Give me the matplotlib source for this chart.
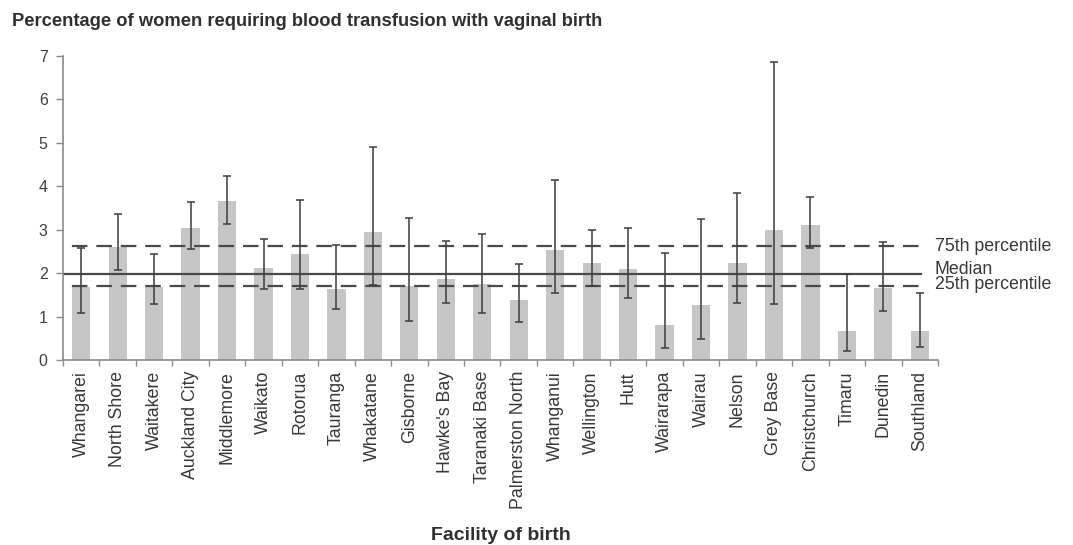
import matplotlib
matplotlib.use("Agg")
import matplotlib.pyplot as plt
import numpy as np

plt.rcParams['font.family'] = ['Liberation Sans', 'DejaVu Sans']

facilities = ["Whangarei", "North Shore", "Waitakere", "Auckland City", "Middlemore",
              "Waikato", "Rotorua", "Tauranga", "Whakatane", "Gisborne", "Hawke's Bay",
              "Taranaki Base", "Palmerston North", "Whanganui", "Wellington", "Hutt",
              "Wairarapa", "Wairau", "Nelson", "Grey Base", "Christchurch", "Timaru",
              "Dunedin", "Southland"]
rates = [1.69, 2.61, 1.68, 3.03, 3.65, 2.11, 2.44, 1.63, 2.95, 1.70, 1.86, 1.74,
         1.38, 2.53, 2.23, 2.09, 0.81, 1.27, 2.23, 2.99, 3.11, 0.67, 1.65, 0.67]
ci_low = [1.09, 2.07, 1.29, 2.56, 3.13, 1.64, 1.64, 1.17, 1.73, 0.89, 1.31, 1.09,
          0.88, 1.54, 1.70, 1.42, 0.27, 0.48, 1.31, 1.29, 2.59, 0.21, 1.13, 0.31]
ci_high = [2.59, 3.36, 2.44, 3.63, 4.24, 2.79, 3.68, 2.64, 4.90, 3.26, 2.75, 2.89,
           2.21, 4.14, 2.99, 3.05, 2.46, 3.25, 3.84, 6.87, 3.76, 1.98, 2.71, 1.54]
p75 = 2.62
median = 1.99
p25 = 1.70
y_ticks = [0, 1, 2, 3, 4, 5, 6, 7]

W, H = 1073, 545
fig = plt.figure(figsize=(W / 100, H / 100), dpi=100)
ax = fig.add_axes([63 / W, 1 - 360 / H, (938 - 63) / W, (360 - 56) / H])

x = np.arange(len(facilities))
r = np.array(rates)
lo = r - np.array(ci_low)
hi = np.array(ci_high) - r

ax.bar(x, r, width=0.5, color='#c6c6c6', zorder=1)

line_col = '#4a4a4a'
xe = len(facilities) - 0.97
ax.plot([-0.5, xe], [p75, p75], color=line_col, lw=1.6, ls=(7, (7, 4)), zorder=2)
ax.plot([-0.5, xe], [p25, p25], color=line_col, lw=1.6, ls=(7, (7, 4)), zorder=2)
ax.plot([-0.5, xe], [median, median], color=line_col, lw=1.6, zorder=2)

ax.errorbar(x, r, yerr=[lo, hi], fmt='none', ecolor='#3c3c3c', elinewidth=1.1,
            capsize=3, capthick=1.1, zorder=3)

ax.set_xlim(-0.5, len(facilities) - 0.5)
ax.set_ylim(0, 7)
ax.set_yticks(y_ticks)
ax.set_yticklabels([str(t) for t in y_ticks])
ax.set_xticks(x)
ax.set_xticklabels(facilities, rotation=90, ha='center', va='top')
ax.set_xticks(np.arange(-0.5, len(facilities), 1.0), minor=True)

for s in ['top', 'right']:
    ax.spines[s].set_visible(False)
for s in ['left', 'bottom']:
    ax.spines[s].set_color('#8a8a8a')
    ax.spines[s].set_linewidth(1.2)

ax.tick_params(axis='x', which='major', length=0, pad=8, labelsize=12.8, labelcolor='#383838')
ax.tick_params(axis='x', which='minor', length=4, color='#8a8a8a', width=1)
ax.tick_params(axis='y', length=5, color='#8a8a8a', width=1, pad=6, labelsize=11.5,
               labelcolor='#404040')

tr = ax.get_yaxis_transform()
lx = 1.0 + (935 - 938) / (938 - 63)
ax.text(lx, p75, "75th percentile", transform=tr,
        fontsize=12.8, color='#383838', va='center', ha='left', clip_on=False)
ax.text(lx, 2.09, "Median", transform=tr,
        fontsize=12.8, color='#383838', va='center', ha='left', clip_on=False)
ax.text(lx, 1.74, "25th percentile", transform=tr,
        fontsize=12.8, color='#383838', va='center', ha='left', clip_on=False)

fig.text(12 / W, 1 - 22 / H, "Percentage of women requiring blood transfusion with vaginal birth",
         fontsize=13.2, fontweight='bold', color='#303030', ha='left', va='center')
fig.text(501 / W, 1 - 535 / H, "Facility of birth", fontsize=14, fontweight='bold',
         color='#303030', ha='center', va='center')

fig.savefig("out.png", dpi=100)
